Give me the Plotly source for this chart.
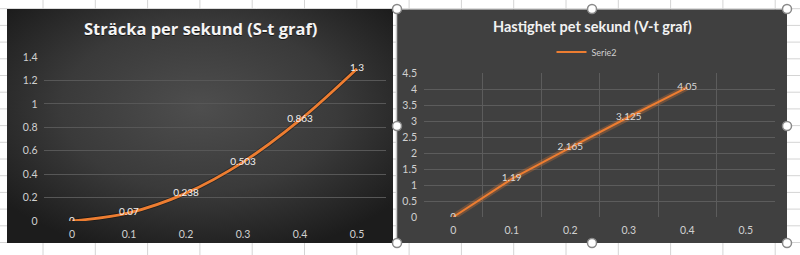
import base64
import plotly.graph_objects as go

# ---------------- data ----------------
categories = ["0", "0.1", "0.2", "0.3", "0.4", "0.5"]
s_values = [0, 0.07, 0.238, 0.503, 0.863, 1.3]          # Sträcka (S-t)
v_values = [0, 1.19, 2.165, 3.125, 4.05]                # Hastighet (V-t), Serie2
s_labels = ["0", "0.07", "0.238", "0.503", "0.863", "1.3"]
v_labels = ["0", "1.19", "2.165", "3.125", "4.05"]
s_yticks = [0, 0.2, 0.4, 0.6, 0.8, 1, 1.2, 1.4]
v_yticks = [0, 0.5, 1, 1.5, 2, 2.5, 3, 3.5, 4, 4.5]
title_s = "Sträcka per sekund (S-t graf)"
title_v = "Hastighet pet sekund (V-t graf)"
series_v = "Serie2"

W, H = 800, 255
ORANGE = "#ed7d31"


def px(x):
    return x / W


def py(y):
    return (H - y) / H


# ---------------- background (Excel sheet + chart panels) ----------------
cols = [43 + 52.3 * i for i in range(16)]
rows = [8.7 + 16.7 * i for i in range(16)]
grid = "".join(
    f'<line x1="{c:.1f}" y1="0" x2="{c:.1f}" y2="{H}" stroke="#d4d4d4" stroke-width="1"/>' for c in cols
) + "".join(
    f'<line x1="0" y1="{r:.1f}" x2="{W}" y2="{r:.1f}" stroke="#d4d4d4" stroke-width="1"/>' for r in rows
)
svg = f'''<svg xmlns="http://www.w3.org/2000/svg" width="{W}" height="{H}" viewBox="0 0 {W} {H}">
<defs>
<radialGradient id="g" cx="50%" cy="42%" r="65%">
<stop offset="0" stop-color="#4e4e4e"/>
<stop offset="0.55" stop-color="#3a3a3a"/>
<stop offset="1" stop-color="#1c1c1c"/>
</radialGradient>
</defs>
<rect x="0" y="0" width="{W}" height="{H}" fill="#ffffff"/>
{grid}
<rect x="7" y="9" width="386" height="234" fill="url(#g)"/>
<rect x="396" y="9.5" width="391" height="233.5" fill="#404040"/>
<line x1="396.5" y1="9" x2="396.5" y2="243" stroke="#c8c8c8" stroke-width="1.5"/>
</svg>'''
src = "data:image/svg+xml;base64," + base64.b64encode(svg.encode()).decode()

fig = go.Figure()

# ---------------- left chart ----------------
xs = list(range(len(s_values)))
fig.add_trace(go.Scatter(
    x=xs, y=s_values, mode="lines", line=dict(color="rgba(0,0,0,0.35)", width=4.5, shape="spline"),
    xaxis="x", yaxis="y", showlegend=False, hoverinfo="skip"))
fig.add_trace(go.Scatter(
    x=xs, y=s_values, mode="lines+text", text=s_labels, textposition="middle center",
    textfont=dict(color="#f0f0f0", size=10, family="Lato"),
    line=dict(color=ORANGE, width=2.8, shape="spline"),
    xaxis="x", yaxis="y", showlegend=False, name="Serie1"))

# ---------------- right chart ----------------
xv = list(range(len(v_values)))
fig.add_trace(go.Scatter(
    x=xv, y=v_values, mode="lines", line=dict(color="rgba(237,125,49,0.28)", width=6),
    xaxis="x2", yaxis="y2", showlegend=False, hoverinfo="skip"))
fig.add_trace(go.Scatter(
    x=xv, y=v_values, mode="lines+text", text=v_labels, textposition="middle center",
    textfont=dict(color="#d9d9d9", size=10, family="Lato"),
    line=dict(color=ORANGE, width=2),
    xaxis="x2", yaxis="y2", showlegend=True, name=series_v))

tickfont = dict(color="#d0d0d0", size=10.5, family="Lato")

fig.update_layout(
    template="none",
    width=W, height=H,
    margin=dict(l=0, r=0, t=0, b=0, pad=0),
    paper_bgcolor="#ffffff", plot_bgcolor="rgba(0,0,0,0)",
    images=[dict(source=src, xref="paper", yref="paper", x=0, y=1, sizex=1, sizey=1,
                 xanchor="left", yanchor="top", sizing="stretch", layer="below")],
    xaxis=dict(domain=[px(43.5), px(385.5)], range=[-0.5, 5.5], tickmode="array",
               tickvals=list(range(len(categories))), ticktext=categories,
               showgrid=False, zeroline=False, showline=False, ticks="",
               ticklabelstandoff=5, automargin=False,
               tickfont=tickfont, anchor="y", fixedrange=True),
    yaxis=dict(domain=[py(221), py(57)], range=[0, 1.4], tickmode="array",
               tickvals=s_yticks, ticktext=[f"{v:g}" for v in s_yticks],
               showgrid=True, gridcolor="#575757", gridwidth=1, zeroline=False,
               showline=False, ticks="", ticklabelstandoff=5, automargin=False,
               tickfont=tickfont, anchor="x", fixedrange=True),
    xaxis2=dict(domain=[px(424), px(775)], range=[-0.5, 5.5], tickmode="array",
                tickvals=list(range(len(categories))), ticktext=categories,
                showgrid=False, zeroline=False, showline=False, ticks="",
                minor=dict(tick0=0.5, dtick=1, showgrid=True, gridcolor="#5c5c5c", gridwidth=1, ticks=""),
                ticklabelstandoff=5, automargin=False,
                tickfont=tickfont, anchor="y2", fixedrange=True),
    yaxis2=dict(domain=[py(217), py(73)], range=[0, 4.5], tickmode="array",
                tickvals=v_yticks, ticktext=[f"{v:g}" for v in v_yticks],
                showgrid=True, gridcolor="#5c5c5c", gridwidth=1, zeroline=False,
                showline=False, ticks="", ticklabelstandoff=6, automargin=False,
                tickfont=tickfont, anchor="x2", fixedrange=True),
    legend=dict(x=px(587), y=py(52), xanchor="center", yanchor="middle",
                bgcolor="rgba(0,0,0,0)", borderwidth=0,
                font=dict(color="#d0d0d0", size=9, family="Lato"),
                itemwidth=30, tracegroupgap=0),
    showlegend=True,
)

# titles (with soft shadow on the left one)
fig.add_annotation(text=f"<b>{title_s}</b>", x=px(201), y=py(29.5), xref="paper", yref="paper",
                   xanchor="center", yanchor="middle", showarrow=False,
                   font=dict(color="rgba(0,0,0,0.6)", size=16.5, family="Open Sans"))
fig.add_annotation(text=f"<b>{title_s}</b>", x=px(200), y=py(28.5), xref="paper", yref="paper",
                   xanchor="center", yanchor="middle", showarrow=False,
                   font=dict(color="#f5f5f5", size=16.5, family="Open Sans"))
fig.add_annotation(text=f"<b>{title_v}</b>", x=px(592), y=py(27), xref="paper", yref="paper",
                   xanchor="center", yanchor="middle", showarrow=False,
                   font=dict(color="#f2f2f2", size=14.5, family="Lato"))

# selection handles of the right chart
handles = [(397, 9), (592, 9), (787, 9), (397, 126), (787, 126), (397, 243), (592, 243), (787, 243)]
for hx, hy in handles:
    r = 4.5
    fig.add_shape(type="circle", xref="paper", yref="paper",
                  x0=px(hx - r), x1=px(hx + r), y0=py(hy + r), y1=py(hy - r),
                  fillcolor="#ffffff", line=dict(color="#8a8a8a", width=1.5), layer="above")

fig.write_html("out.html")
